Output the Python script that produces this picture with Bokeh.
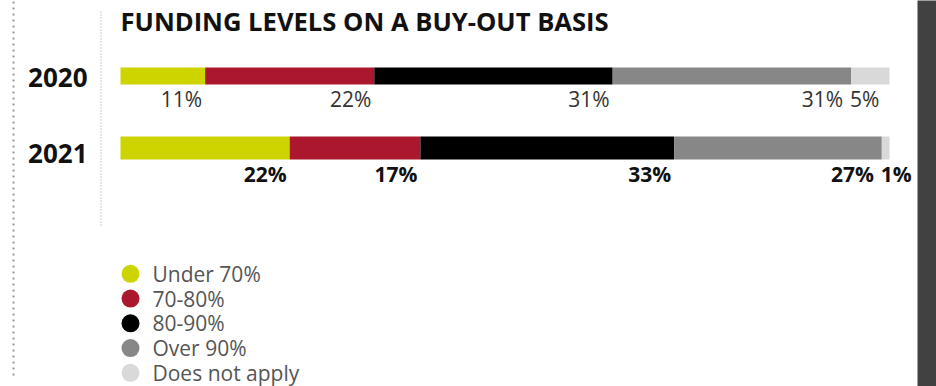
import numpy as np
from bokeh.plotting import figure
from bokeh.models import ColumnDataSource, Range1d
from bokeh.core.properties import value
from bokeh.embed import file_html
from bokeh.resources import INLINE

# ---- data ----
title = "FUNDING LEVELS ON A BUY-OUT BASIS"
years = ["2020", "2021"]
categories = ["Under 70%", "70-80%", "80-90%", "Over 90%", "Does not apply"]
values_2020 = [11, 22, 31, 31, 5]
values_2021 = [22, 17, 33, 27, 1]
colors = ["#cdd400", "#ab182d", "#000000", "#878787", "#d9d9d9"]

FONT = "Open Sans"
W, H = 936, 386
X0, X1 = 120.0, 889.0           # pixel extent of the 0..100 scale
k = (X1 - X0) / 100.0
BL = 0.40                       # baseline correction (fraction of font size)

def px(x):
    """convert a page pixel x to data units (layout helper)"""
    return (x - X0) / k

def base(y, size):
    """visual baseline -> y used for alphabetic text placement"""
    return y - BL * size

p = figure(width=W, height=H, output_backend="svg", toolbar_location=None,
           x_range=Range1d(px(0), px(W)), y_range=Range1d(H, 0),
           min_border=0, min_border_left=0, min_border_right=0,
           min_border_top=0, min_border_bottom=0)
p.axis.visible = False
p.grid.visible = False
p.outline_line_color = None
p.background_fill_color = "white"
p.border_fill_color = "white"

# dark band on the right
p.quad(left=[px(917)], right=[px(W + 20)], bottom=[H + 20], top=[-20],
       fill_color="#414141", line_color=None)

# dotted guide lines
p.segment(x0=[px(13)], y0=[1], x1=[px(13)], y1=[377], line_color="#9a9a9a",
          line_width=2, line_dash="2 4")
p.segment(x0=[px(100.5)], y0=[11], x1=[px(100.5)], y1=[225], line_color="#9a9a9a",
          line_width=1, line_dash="1 2")

# title
TS = 25.6
p.text(x=[px(120)], y=[base(31, TS)], text=[title], text_font=value(FONT), text_font_style="bold",
       text_font_size=f"{TS}px", text_color="#111111", text_baseline="alphabetic")

rows = [
    dict(year=years[0], vals=values_2020, yc=75.5, h=17, lab_base=107, year_base=87,
         style="normal", lab_color="#333333"),
    dict(year=years[1], vals=values_2021, yc=147.5, h=23, lab_base=182, year_base=163,
         style="bold", lab_color="#111111"),
]

LS = 21
YS = 26
for r in rows:
    v = np.array(r["vals"], dtype=float)
    right = np.cumsum(v)
    left = right - v
    src = ColumnDataSource(dict(y=[r["yc"]] * len(v), left=left, right=right, color=colors))
    p.hbar(y="y", left="left", right="right", height=r["h"], fill_color="color",
           line_color=None, source=src)

    labels = [f"{int(x)}%" for x in v]
    # labels right-aligned at the end of each segment (all but the last)
    offs = [-3, -3, -3, -8]
    p.text(x=list(right[:4]), y=[base(r["lab_base"], LS)] * 4, text=labels[:4], x_offset=offs,
           text_font=value(FONT), text_font_style=r["style"], text_font_size=f"{LS}px",
           text_color=r["lab_color"], text_align="right", text_baseline="alphabetic")
    # last label left-aligned at the start of its segment
    p.text(x=[left[4]], y=[base(r["lab_base"], LS)], text=[labels[4]], x_offset=[-1],
           text_font=value(FONT), text_font_style=r["style"], text_font_size=f"{LS}px",
           text_color=r["lab_color"], text_align="left", text_baseline="alphabetic")

    # year label
    p.text(x=[px(87)], y=[base(r["year_base"], YS)], text=[r["year"]], text_font=value(FONT),
           text_font_style="bold", text_font_size=f"{YS}px", text_color="#111111",
           text_align="right", text_baseline="alphabetic")

# legend
GS = 21
leg_y0, leg_step = 273.3, 24.75
leg_y = [leg_y0 + i * leg_step for i in range(len(categories))]
p.scatter(x=[px(130)] * len(categories), y=leg_y, size=18, marker="circle",
          fill_color=colors, line_color=None)
p.text(x=[px(152)] * len(categories), y=[base(y + 8.5, GS) for y in leg_y], text=categories,
       text_font=value(FONT), text_font_size=f"{GS}px", text_color="#555555",
       text_baseline="alphabetic")

html = file_html(p, INLINE)
html = html.replace("<head>", "<head><style>html,body{margin:0;padding:0;overflow:hidden}</style>", 1)
open("out.html", "w").write(html)
